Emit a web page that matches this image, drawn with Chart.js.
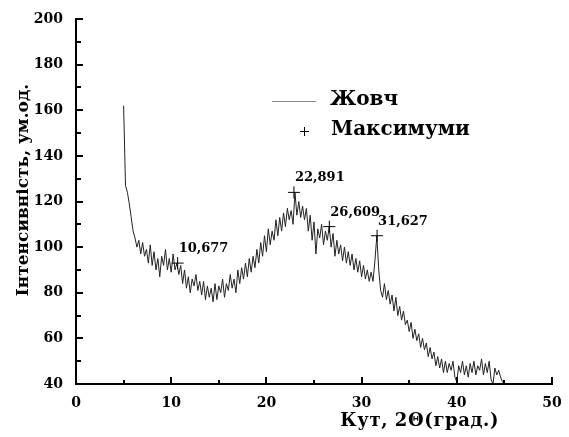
<!DOCTYPE html>
<html>
<head>
<meta charset="utf-8">
<script src="https://cdn.jsdelivr.net/npm/chart.js@4/dist/chart.umd.min.js"></script>
<style>
html,body{margin:0;padding:0;background:#fff;}
#wrap{width:569px;height:437px;position:relative;}
</style>
</head>
<body>
<div id="wrap"><canvas id="c" width="569" height="437"></canvas></div>
<script>
// ---- data ----
const angles = [
 5.0,5.2,5.4,5.6,5.8,6.0,6.2,6.4,6.6,6.8,
 7.0,7.2,7.4,7.6,7.8,8.0,8.2,8.4,8.6,8.8,
 9.0,9.2,9.4,9.6,9.8,10.0,10.2,10.4,10.6,10.8,
 11.0,11.2,11.4,11.6,11.8,12.0,12.2,12.4,12.6,12.8,
 13.0,13.2,13.4,13.6,13.8,14.0,14.2,14.4,14.6,14.8,
 15.0,15.2,15.4,15.6,15.8,16.0,16.2,16.4,16.6,16.8,
 17.0,17.2,17.4,17.6,17.8,18.0,18.2,18.4,18.6,18.8,
 19.0,19.2,19.4,19.6,19.8,20.0,20.2,20.4,20.6,20.8,
 21.0,21.2,21.4,21.6,21.8,22.0,22.2,22.4,22.6,22.8,
 23.0,23.2,23.4,23.6,23.8,24.0,24.2,24.4,24.6,24.8,
 25.0,25.2,25.4,25.6,25.8,26.0,26.2,26.4,26.6,26.8,
 27.0,27.2,27.4,27.6,27.8,28.0,28.2,28.4,28.6,28.8,
 29.0,29.2,29.4,29.6,29.8,30.0,30.2,30.4,30.6,30.8,
 31.0,31.2,31.4,31.6,31.8,32.0,32.2,32.4,32.6,32.8,
 33.0,33.2,33.4,33.6,33.8,34.0,34.2,34.4,34.6,34.8,
 35.0,35.2,35.4,35.6,35.8,36.0,36.2,36.4,36.6,36.8,
 37.0,37.2,37.4,37.6,37.8,38.0,38.2,38.4,38.6,38.8,
 39.0,39.2,39.4,39.6,39.8,40.0,40.2,40.4,40.6,40.8,
 41.0,41.2,41.4,41.6,41.8,42.0,42.2,42.4,42.6,42.8,
 43.0,43.2,43.4,43.6,43.8,44.0,44.2,44.4,44.6,44.8,
 45.0
];
const intensity = [
 162,127,124,119,113,107,104,100,103,97,
 102,96,99,93,101,92,98,90,95,87,
 96,92,99,90,95,89,97,90,93,88,
 92,84,90,82,87,80,86,83,88,81,
 85,79,85,77,83,78,82,76,84,77,
 83,80,86,78,84,81,88,82,86,80,
 90,84,91,86,93,87,95,89,96,91,
 99,93,102,96,105,98,108,101,107,103,
 112,105,113,107,115,109,117,112,116,110,
 124,114,120,113,118,112,117,107,114,103,
 111,97,108,104,110,101,107,103,109,100,
 106,96,103,97,101,94,100,93,98,92,
 97,90,95,89,94,87,92,86,90,85,
 89,85,94,105,90,81,78,84,77,81,
 75,79,72,78,70,74,68,72,66,68,
 63,67,60,64,59,62,56,60,55,58,
 52,56,51,54,48,52,47,51,45,50,
 45,49,46,50,43,41,48,45,50,44,
 48,43,49,45,50,44,48,46,51,44,
 49,45,50,42,40,47,44,46,43,41,
 40
];
const peakAngles = [10.677, 22.891, 26.609, 31.627];
const peakIntensity = [93, 124, 109, 105];
const peakLabels = ["10,677", "22,891", "26,609", "31,627"];
const seriesNames = ["Жовч", "Максимуми"];
const xTitle = "Кут, 2Θ(град.)";
const yTitle = "Інтенсивність, ум.од.";
const xTicks = {min: 0, max: 50, step: 10, minorStep: 5};
const yTicks = {min: 40, max: 200, step: 20, minorStep: 10};

const FAMILY = "'DejaVu Serif', serif";

const lineData = angles.map((a, i) => ({x: a, y: intensity[i]}));
const peakData = peakAngles.map((a, i) => ({x: a, y: peakIntensity[i]}));

const decor = {
  id: 'decor',
  afterDraw(chart) {
    const ctx = chart.ctx;
    const xs = chart.scales.x, ys = chart.scales.y;
    const area = chart.chartArea;
    ctx.save();
    ctx.strokeStyle = '#000';
    ctx.lineWidth = 2;
    for (let v = xTicks.min; v <= xTicks.max + 1e-9; v += xTicks.minorStep) {
      const px = Math.round(xs.getPixelForValue(v));
      const major = Math.abs(v / xTicks.step - Math.round(v / xTicks.step)) < 1e-9;
      const len = major ? 7 : 4;
      ctx.beginPath();
      ctx.moveTo(px, area.bottom);
      ctx.lineTo(px, area.bottom - len);
      ctx.stroke();
    }
    for (let v = yTicks.min; v <= yTicks.max + 1e-9; v += yTicks.minorStep) {
      const py = Math.round(ys.getPixelForValue(v));
      const major = Math.abs(v / yTicks.step - Math.round(v / yTicks.step)) < 1e-9;
      const len = major ? 7 : 5;
      ctx.beginPath();
      ctx.moveTo(area.left, py);
      ctx.lineTo(area.left + len, py);
      ctx.stroke();
    }
    // tick labels from the scales' own ticks
    ctx.fillStyle = '#000';
    ctx.font = 'bold 14px ' + FAMILY;
    ctx.textAlign = 'center';
    ctx.textBaseline = 'middle';
    xs.ticks.forEach(t => {
      ctx.fillText(String(t.value), xs.getPixelForValue(t.value), 403);
    });
    ctx.textAlign = 'right';
    ys.ticks.forEach(t => {
      ctx.fillText(String(t.value), 63, ys.getPixelForValue(t.value));
    });
    // axis titles
    ctx.font = 'bold 18px ' + FAMILY;
    ctx.textAlign = 'center';
    ctx.save();
    try { ctx.letterSpacing = '0.6px'; } catch (e) {}
    ctx.fillText(xTitle, xs.getPixelForValue(36.1), 421);
    ctx.restore();
    ctx.save();
    ctx.translate(24, 190);
    ctx.rotate(-Math.PI / 2);
    ctx.font = 'bold 17px ' + FAMILY;
    ctx.fillText(yTitle, 0, 0);
    ctx.restore();
    // peak labels
    ctx.font = 'bold 13px ' + FAMILY;
    ctx.textAlign = 'left';
    ctx.textBaseline = 'alphabetic';
    peakData.forEach((p, i) => {
      const px = xs.getPixelForValue(p.x);
      const py = ys.getPixelForValue(p.y);
      ctx.fillText(peakLabels[i], px + 1, py - 11);
    });
    // legend
    ctx.strokeStyle = '#888';
    ctx.lineWidth = 1;
    ctx.beginPath();
    ctx.moveTo(272, 101.5);
    ctx.lineTo(316, 101.5);
    ctx.stroke();
    ctx.strokeStyle = '#000';
    ctx.beginPath();
    ctx.moveTo(300, 131.5); ctx.lineTo(309, 131.5);
    ctx.moveTo(304.5, 127); ctx.lineTo(304.5, 136);
    ctx.stroke();
    ctx.font = 'bold 20px ' + FAMILY;
    ctx.textAlign = 'left';
    ctx.textBaseline = 'middle';
    ctx.fillText(chart.data.datasets[0].label, 330, 100);
    ctx.fillText(chart.data.datasets[1].label, 331, 130);
    ctx.restore();
  }
};

new Chart(document.getElementById('c'), {
  type: 'scatter',
  data: {
    datasets: [
      {
        label: seriesNames[0],
        data: lineData,
        showLine: true,
        borderColor: '#222',
        borderWidth: 1,
        pointRadius: 0,
        tension: 0,
        order: 2
      },
      {
        label: seriesNames[1],
        data: peakData,
        showLine: false,
        pointStyle: 'cross',
        pointRadius: 6,
        borderColor: '#000',
        borderWidth: 1,
        backgroundColor: '#000',
        order: 1
      }
    ]
  },
  options: {
    responsive: false,
    animation: false,
    devicePixelRatio: 1,
    layout: {padding: {left: 0, right: 17, top: 19, bottom: 0}},
    plugins: {legend: {display: false}, tooltip: {enabled: false}},
    scales: {
      x: {
        type: 'linear',
        min: xTicks.min, max: xTicks.max,
        ticks: {stepSize: xTicks.step, display: false},
        grid: {display: false, drawTicks: false},
        border: {display: true, color: '#000', width: 2},
        afterFit(s) { s.height = 53; }
      },
      y: {
        type: 'linear',
        min: yTicks.min, max: yTicks.max,
        ticks: {stepSize: yTicks.step, display: false},
        grid: {display: false, drawTicks: false},
        border: {display: true, color: '#000', width: 2},
        afterFit(s) { s.width = 76; }
      }
    }
  },
  plugins: [decor]
});
</script>
</body>
</html>
